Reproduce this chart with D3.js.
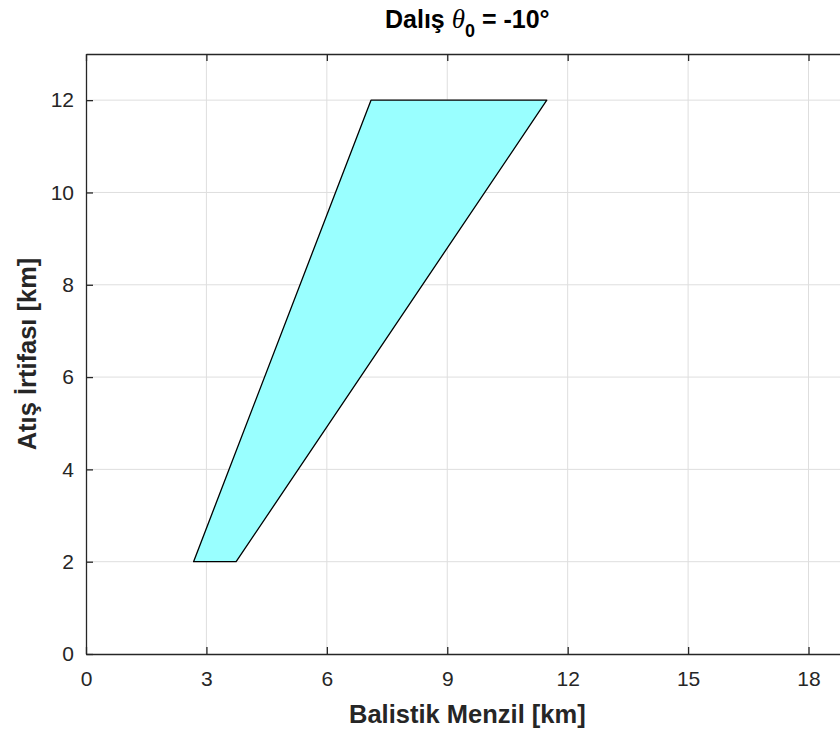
<!DOCTYPE html>
<html>
<head>
<meta charset="utf-8">
<script src="https://cdn.jsdelivr.net/npm/d3@7"></script>
<style>
  body { margin: 0; background: #fff; }
  svg { display: block; font-family: "Liberation Sans", Arial, sans-serif; }
</style>
</head>
<body>
<svg id="chart" width="840" height="736"></svg>
<script>
// polygon corners (range km, altitude km)
var rangeKm = [2.68, 7.1, 11.48, 3.74];
var altitudeKm = [2, 12, 12, 2];
var xTicks = [0, 3, 6, 9, 12, 15, 18];
var yTicks = [0, 2, 4, 6, 8, 10, 12];

var margin = {left: 86, top: 54, bottom: 654};
var width = 840, height = 736;
var ink = "#262626";

var x = d3.scaleLinear().domain([0, 19]).range([margin.left, margin.left + 19 * 40.14]);
var y = d3.scaleLinear().domain([0, 13]).range([margin.bottom, margin.top]);

var svg = d3.select("#chart");

// grid
svg.append("g").selectAll("line.gx")
    .data(xTicks.slice(1))
    .enter().append("line")
    .attr("x1", function (d) { return x(d); })
    .attr("x2", function (d) { return x(d); })
    .attr("y1", y(0)).attr("y2", y(13))
    .attr("stroke", "#dedede").attr("stroke-width", 1);
svg.append("g").selectAll("line.gy")
    .data(yTicks.slice(1))
    .enter().append("line")
    .attr("y1", function (d) { return y(d); })
    .attr("y2", function (d) { return y(d); })
    .attr("x1", x(0)).attr("x2", x(19))
    .attr("stroke", "#dedede").attr("stroke-width", 1);

// filled region
var pts = rangeKm.map(function (r, i) { return [x(r), y(altitudeKm[i])]; });
svg.append("path")
    .attr("d", d3.line()(pts) + "Z")
    .attr("fill", "#99ffff")
    .attr("stroke", "#000")
    .attr("stroke-width", 1.3)
    .attr("stroke-linejoin", "round");

// axes
var xAxis = svg.append("g")
    .attr("transform", "translate(0," + y(0) + ")")
    .call(d3.axisBottom(x).tickValues(xTicks).tickSizeInner(-7).tickSizeOuter(0).tickPadding(17));
var xTop = svg.append("g")
    .attr("transform", "translate(0," + y(13) + ")")
    .call(d3.axisTop(x).tickValues(xTicks).tickSizeInner(-7).tickSizeOuter(0).tickFormat(""));
var yAxis = svg.append("g")
    .attr("transform", "translate(" + x(0) + ",0)")
    .call(d3.axisLeft(y).tickValues(yTicks).tickSizeInner(-7).tickSizeOuter(0).tickPadding(12));

[xAxis, xTop, yAxis].forEach(function (g) {
    g.select(".domain").attr("stroke", ink).attr("stroke-width", 1.3);
    g.selectAll(".tick line").attr("stroke", ink).attr("stroke-width", 1.3);
    g.selectAll(".tick text")
        .attr("fill", ink)
        .style("font-size", "21px")
        .style("font-family", "Liberation Sans, Arial, sans-serif");
});

// labels
svg.append("text")
    .attr("x", (x(0) + x(19)) / 2)
    .attr("y", 723)
    .attr("text-anchor", "middle")
    .attr("fill", ink)
    .style("font-size", "25.5px")
    .style("font-weight", "bold")
    .text("Balistik Menzil [km]");

svg.append("text")
    .attr("transform", "translate(36," + (y(0) + y(13)) / 2 + ") rotate(-90)")
    .attr("text-anchor", "middle")
    .attr("fill", ink)
    .style("font-size", "25.5px")
    .style("font-weight", "bold")
    .text("Atış İrtifası [km]");

var title = svg.append("text")
    .attr("x", (x(0) + x(19)) / 2)
    .attr("y", 28)
    .attr("text-anchor", "middle")
    .attr("fill", "#000")
    .style("font-size", "25px")
    .style("font-weight", "bold");
title.append("tspan").text("Dalış ");
title.append("tspan").style("font-style", "italic").style("font-weight", "normal")
    .style("font-family", "Liberation Serif, serif").style("font-size", "27px").text("θ");
title.append("tspan").attr("dy", 9).style("font-size", "18px").text("0");
title.append("tspan").attr("dy", -9).text(" = -10°");
</script>
</body>
</html>
